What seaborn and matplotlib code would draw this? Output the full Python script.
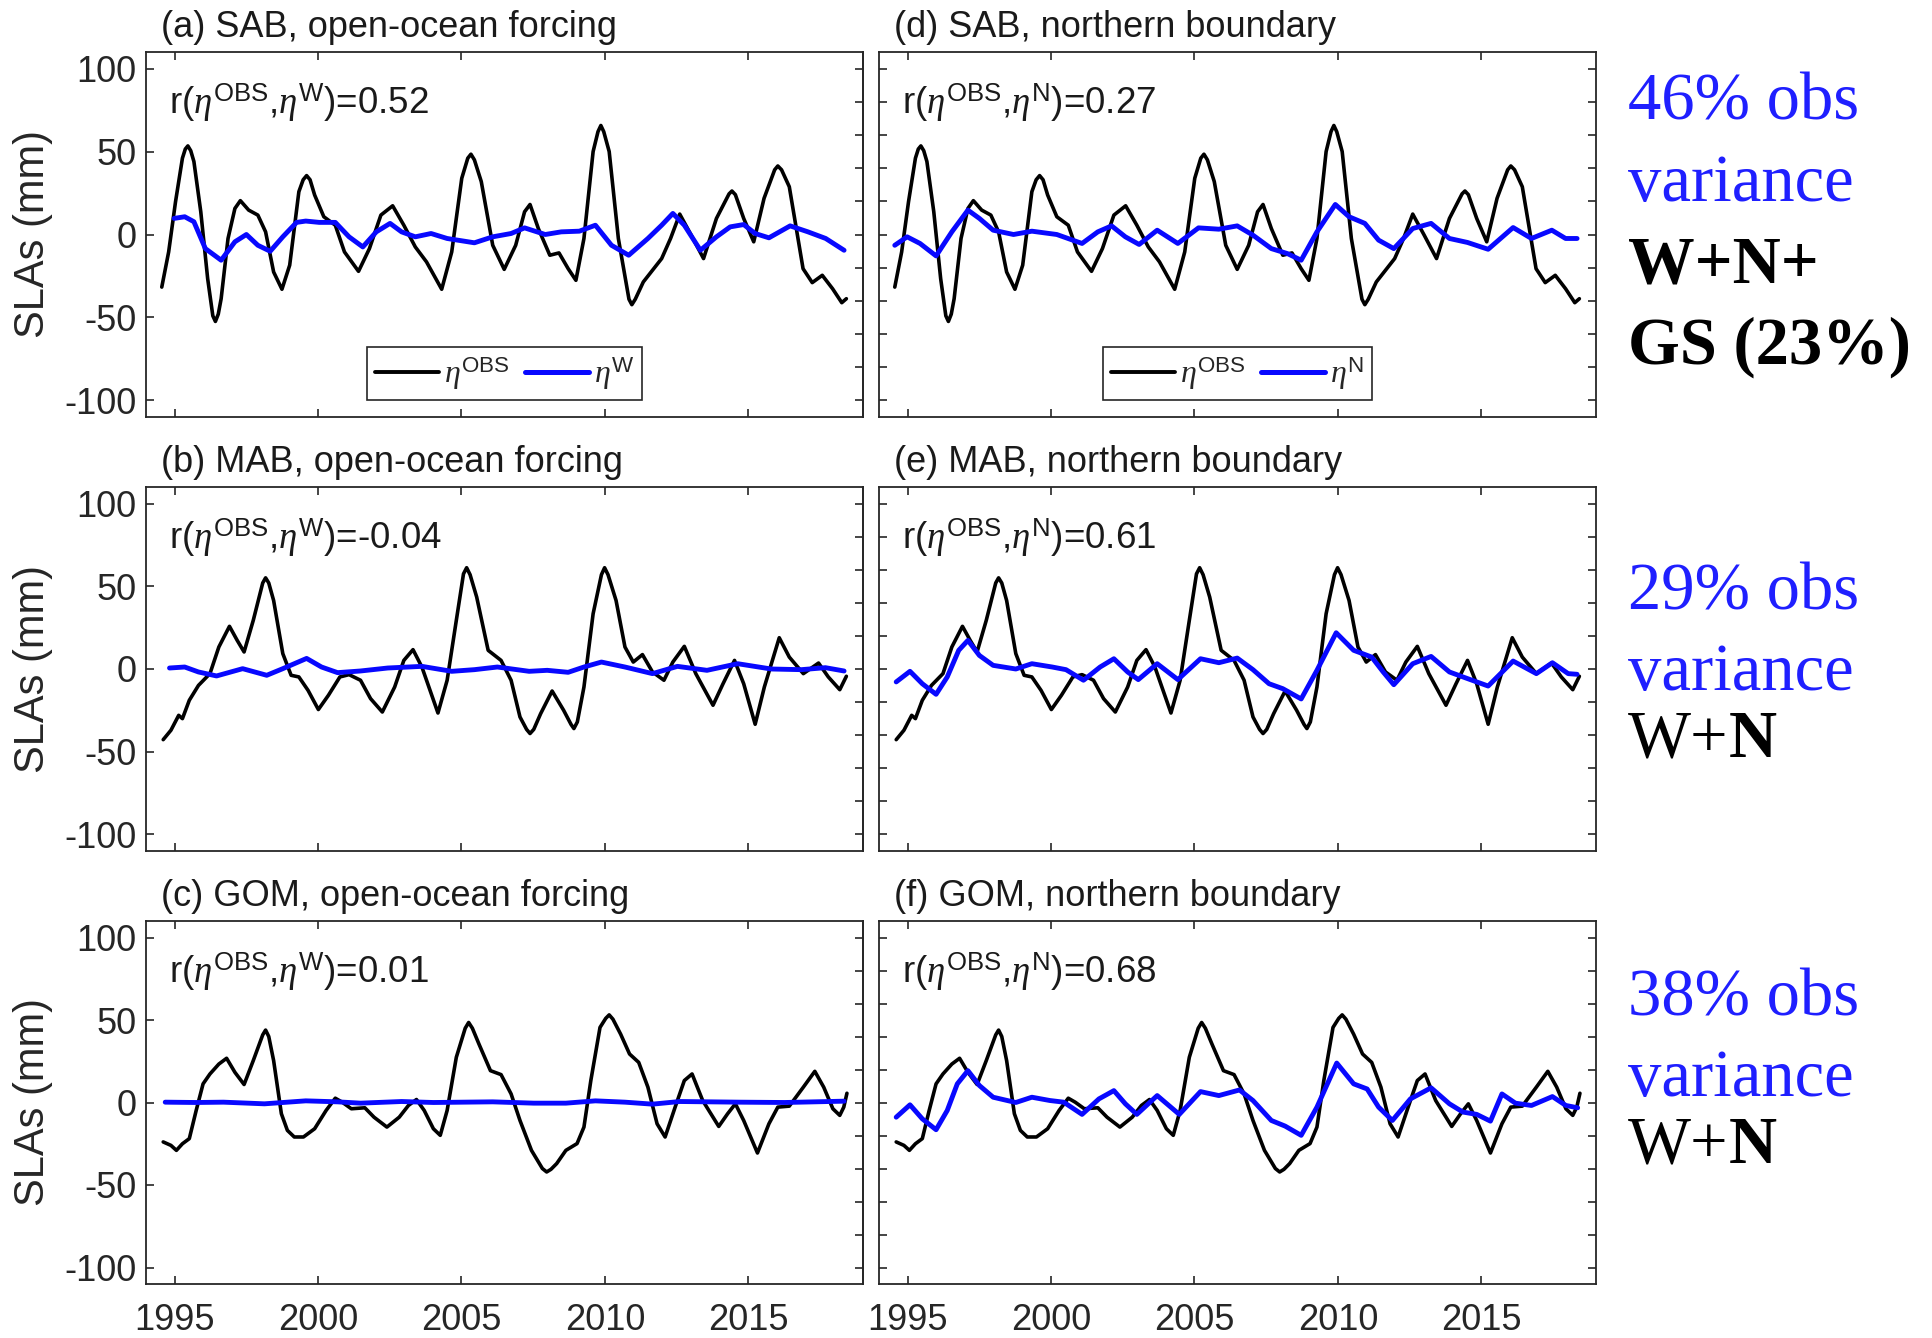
import numpy as np
import pandas as pd
import matplotlib
matplotlib.use('Agg')
import matplotlib.pyplot as plt
import seaborn as sns
from matplotlib.lines import Line2D

# ---------------- data ----------------
sab_obs_t = [1994.55, 1994.79, 1995.03, 1995.27, 1995.37, 1995.46, 1995.56, 1995.67, 1995.91, 1996.15,
             1996.33, 1996.42, 1996.52, 1996.62, 1996.86, 1997.10, 1997.29, 1997.58, 1997.90, 1998.17,
             1998.45, 1998.74, 1999.01, 1999.33, 1999.48, 1999.60, 1999.72, 1999.88, 2000.20, 2000.60,
             2000.92, 2001.41, 2001.79, 2002.19, 2002.60, 2002.99, 2003.39, 2003.78, 2004.31, 2004.66,
             2005.01, 2005.22, 2005.33, 2005.45, 2005.69, 2006.09, 2006.49, 2006.89, 2007.20, 2007.39,
             2007.68, 2008.08, 2008.40, 2008.72, 2008.99, 2009.27, 2009.59, 2009.76, 2009.86, 2009.96,
             2010.15, 2010.47, 2010.84, 2010.94, 2011.06, 2011.34, 2011.98, 2012.29, 2012.61, 2013.01,
             2013.44, 2013.89, 2014.33, 2014.43, 2014.55, 2014.84, 2015.19, 2015.55, 2015.92, 2016.03,
             2016.16, 2016.43, 2016.91, 2017.23, 2017.58, 2017.94, 2018.26, 2018.42]
sab_obs_v = [-31.7, -10.5, 19.8, 46.0, 51.5, 53.4, 50.5, 44.0, 13.7, -26.6,
             -49.0, -52.4, -48.0, -38.7, -2.4, 15.7, 20.4, 14.7, 11.7, 1.6,
             -22.6, -33.0, -18.5, 25.8, 33.0, 35.5, 33.0, 23.8, 10.7, 5.6,
             -10.5, -22.2, -8.5, 11.7, 17.3, 5.6, -7.5, -16.5, -33.0, -10.5,
             33.9, 46.0, 48.4, 45.0, 31.9, -6.5, -21.0, -6.5, 13.7, 18.1,
             3.6, -12.5, -11.1, -20.6, -27.6, -2.4, 50.0, 62.0, 65.7, 62.0,
             50.0, -2.4, -39.0, -42.3, -39.0, -28.6, -14.5, -2.4, 12.3, -0.4,
             -14.5, 9.7, 24.5, 26.2, 24.0, 9.7, -4.4, 21.8, 39.0, 41.3,
             39.0, 28.8, -20.6, -29.0, -24.6, -32.7, -41.1, -38.7]

mab_obs_t = [1994.60, 1994.87, 1995.14, 1995.27, 1995.51, 1995.83, 1996.23, 1996.54, 1996.91, 1997.18,
             1997.42, 1997.74, 1998.07, 1998.17, 1998.28, 1998.45, 1998.77, 1999.06, 1999.33, 1999.65,
             2000.01, 2000.36, 2000.76, 2001.08, 2001.48, 2001.83, 2002.24, 2002.67, 2002.99, 2003.31,
             2003.62, 2004.18, 2004.50, 2004.82, 2005.07, 2005.18, 2005.30, 2005.53, 2005.93, 2006.38,
             2006.73, 2007.04, 2007.27, 2007.39, 2007.52, 2007.76, 2008.16, 2008.56, 2008.82, 2008.92,
             2009.04, 2009.27, 2009.59, 2009.88, 2009.99, 2010.11, 2010.39, 2010.70, 2010.99, 2011.31,
             2011.66, 2012.06, 2012.37, 2012.77, 2013.17, 2013.77, 2014.12, 2014.52, 2014.84, 2015.24,
             2015.56, 2016.08, 2016.43, 2016.92, 2017.45, 2017.79, 2018.19, 2018.42]
mab_obs_v = [-42.7, -37.0, -28.0, -30.0, -18.9, -9.9, -2.8, 13.3, 25.8, 17.3,
             10.3, 29.4, 52.0, 55.1, 52.0, 41.4, 9.3, -3.8, -4.8, -12.9,
             -24.5, -15.9, -4.8, -3.4, -6.8, -17.9, -26.0, -10.9, 5.2, 11.7,
             1.2, -26.6, -6.8, 29.4, 57.5, 61.2, 57.0, 43.5, 11.3, 5.2,
             -6.8, -29.0, -36.5, -39.0, -36.5, -27.0, -13.3, -24.9, -33.5, -36.0,
             -32.0, -10.9, 33.4, 57.0, 61.2, 57.0, 41.4, 13.3, 4.2, 8.7,
             -1.8, -6.8, 4.2, 13.7, -2.8, -21.9, -8.9, 5.2, -8.9, -33.4,
             -10.9, 18.9, 7.2, -2.8, 3.6, -4.8, -12.5, -4.4]

gom_obs_t = [1994.60, 1994.87, 1995.06, 1995.27, 1995.51, 1995.75, 1995.99, 1996.23, 1996.54, 1996.81,
             1997.10, 1997.42, 1997.74, 1998.07, 1998.17, 1998.28, 1998.45, 1998.72, 1998.93, 1999.17,
             1999.49, 1999.88, 2000.28, 2000.60, 2000.84, 2001.16, 2001.63, 2001.95, 2002.40, 2002.83,
             2003.15, 2003.43, 2003.70, 2004.02, 2004.26, 2004.50, 2004.82, 2005.13, 2005.25, 2005.38,
             2005.61, 2006.01, 2006.38, 2006.73, 2007.04, 2007.44, 2007.82, 2007.97, 2008.12, 2008.32,
             2008.64, 2009.03, 2009.27, 2009.51, 2009.83, 2010.03, 2010.15, 2010.28, 2010.55, 2010.86,
             2011.18, 2011.50, 2011.82, 2012.10, 2012.45, 2012.77, 2013.04, 2013.41, 2013.97, 2014.28,
             2014.55, 2014.84, 2015.32, 2015.72, 2016.03, 2016.43, 2016.92, 2017.32, 2017.63, 2017.95,
             2018.19, 2018.33, 2018.44]
gom_obs_v = [-23.9, -26.0, -29.0, -25.0, -21.9, -4.8, 11.3, 17.3, 23.3, 26.8,
             18.3, 10.9, 25.4, 41.0, 43.9, 40.0, 25.4, -6.8, -16.9, -20.9,
             -20.9, -15.9, -4.8, 2.6, 0.2, -3.8, -3.2, -8.9, -14.9, -8.9,
             -1.8, 1.8, -4.8, -15.9, -19.9, -4.8, 27.4, 45.0, 48.5, 45.0,
             35.4, 19.3, 16.9, 5.2, -10.9, -29.0, -40.0, -42.1, -40.5, -37.0,
             -29.0, -24.9, -14.9, 13.3, 45.5, 51.0, 53.1, 50.5, 41.4, 29.4,
             24.3, 9.3, -12.9, -20.9, -2.8, 13.3, 17.3, 1.2, -14.5, -6.8,
             -0.8, -10.9, -30.6, -12.9, -2.8, -2.2, 9.3, 18.9, 9.3, -3.8,
             -7.8, -2.8, 5.6]

sab_w_t = [1994.98, 1995.35, 1995.67, 1996.07, 1996.62, 1997.10, 1997.50, 1997.90, 1998.33, 1998.77,
           1999.25, 1999.57, 2000.04, 2000.60, 2001.08, 2001.56, 2002.03, 2002.51, 2002.91, 2003.39,
           2003.94, 2004.50, 2005.45, 2006.09, 2006.73, 2007.20, 2007.92, 2008.48, 2009.11, 2009.67,
           2010.23, 2010.83, 2011.50, 2011.98, 2012.37, 2012.77, 2013.33, 2013.89, 2014.37, 2014.84,
           2015.24, 2015.72, 2016.46, 2017.08, 2017.70, 2018.34]
sab_w_v = [9.7, 10.7, 7.7, -8.5, -15.5, -4.4, 0.0, -6.5, -10.1, -1.4,
           7.3, 8.1, 7.3, 7.3, -1.4, -7.5, 1.6, 6.7, 1.6, -1.4,
           0.6, -2.4, -5.0, -1.4, 0.6, 4.0, 0.0, 1.6, 2.0, 5.6,
           -6.5, -12.5, -2.4, 5.6, 12.7, 5.6, -9.5, -1.4, 4.6, 6.0,
           0.6, -2.0, 5.2, 1.6, -2.4, -9.5]

sab_n_t = [1994.55, 1994.98, 1995.43, 1995.99, 1996.54, 1997.10, 1997.50, 1997.98, 1998.69, 1999.33,
           2000.20, 2001.08, 2001.63, 2002.11, 2002.59, 2003.07, 2003.70, 2004.42, 2005.14, 2005.85,
           2006.49, 2007.04, 2007.68, 2008.24, 2008.72, 2009.27, 2009.91, 2010.39, 2010.94, 2011.42,
           2011.95, 2012.61, 2013.25, 2013.89, 2014.52, 2015.24, 2016.11, 2016.75, 2017.46, 2017.94,
           2018.34]
sab_n_v = [-6.5, -1.4, -5.4, -12.9, 1.6, 14.7, 9.7, 2.6, 0.0, 2.0,
           0.0, -5.4, 1.6, 5.2, -1.4, -6.0, 2.6, -5.4, 4.0, 3.2,
           5.2, -0.4, -8.5, -11.5, -15.5, 1.6, 18.1, 10.7, 6.7, -3.4,
           -8.5, 3.6, 6.7, -2.4, -4.8, -8.9, 4.2, -2.4, 2.6, -2.4,
           -2.4]

mab_w_t = [1994.82, 1995.35, 1995.83, 1996.46, 1997.37, 1998.21, 1998.77, 1999.60, 2000.12, 2000.68,
           2001.48, 2002.43, 2003.62, 2004.66, 2005.45, 2006.25, 2007.36, 2007.99, 2008.72, 2009.27,
           2009.88, 2010.70, 2011.66, 2012.53, 2013.56, 2014.63, 2015.80, 2016.85, 2017.69, 2018.34]
mab_w_v = [0.6, 1.2, -1.8, -4.2, 0.2, -3.8, 0.2, 6.4, 1.2, -2.2,
           -1.2, 0.6, 1.6, -1.4, -0.4, 1.2, -1.4, -0.8, -2.0, 1.2,
           4.2, 1.2, -2.8, 1.6, -0.8, 3.2, 0.0, -0.4, 0.8, -1.2]

mab_n_t = [1994.60, 1995.08, 1995.51, 1995.99, 1996.38, 1996.78, 1997.10, 1997.50, 1997.98, 1998.77,
           1999.33, 2000.04, 2000.52, 2001.13, 2001.71, 2002.19, 2002.67, 2003.04, 2003.70, 2004.42,
           2005.21, 2005.85, 2006.49, 2007.04, 2007.60, 2008.08, 2008.72, 2009.27, 2009.94, 2010.55,
           2011.18, 2011.58, 2011.95, 2012.61, 2013.25, 2013.89, 2014.52, 2015.24, 2016.11, 2016.92,
           2017.48, 2018.03, 2018.34]
mab_n_v = [-7.8, -1.4, -8.9, -15.3, -4.8, 11.3, 17.3, 8.2, 2.2, 0.0,
           3.2, 1.2, -0.4, -6.8, 1.2, 6.2, -1.8, -6.4, 3.2, -6.4,
           6.2, 3.8, 6.6, -0.4, -8.9, -11.9, -18.1, -0.8, 21.9, 11.3,
           7.2, -1.8, -9.5, 3.2, 7.6, -1.8, -5.8, -10.3, 4.8, -2.8,
           3.8, -2.8, -3.2]

gom_w_t = [1994.67, 1995.75, 1996.70, 1998.13, 1999.57, 2000.68, 2001.48, 2002.91, 2004.02, 2006.09,
           2007.52, 2008.64, 2009.67, 2010.70, 2011.66, 2012.61, 2014.68, 2016.27, 2018.34]
gom_w_v = [0.2, 0.0, 0.2, -0.8, 1.0, 0.4, -0.4, 0.6, 0.0, 0.4,
           -0.4, -0.4, 1.0, 0.2, -1.0, 0.6, 0.2, 0.0, 0.8]

gom_n_t = [1994.60, 1995.08, 1995.51, 1995.99, 1996.38, 1996.73, 1997.10, 1997.50, 1997.98, 1998.77,
           1999.33, 1999.96, 2000.44, 2001.08, 2001.67, 2002.19, 2002.59, 2002.99, 2003.70, 2004.47,
           2005.21, 2005.85, 2006.57, 2007.04, 2007.68, 2008.16, 2008.72, 2009.27, 2009.96, 2010.55,
           2011.02, 2011.42, 2011.90, 2012.53, 2013.25, 2013.89, 2014.36, 2014.84, 2015.32, 2015.72,
           2016.19, 2016.75, 2017.48, 2017.95, 2018.36]
gom_n_v = [-8.9, -1.4, -9.9, -16.5, -4.8, 11.3, 19.3, 10.3, 3.2, 0.0,
           3.2, 1.2, 0.2, -7.2, 2.2, 7.2, -0.8, -7.2, 4.2, -7.2,
           6.6, 4.2, 7.6, 1.2, -10.9, -14.3, -19.9, -2.8, 23.9, 11.3,
           8.2, -2.8, -10.9, 2.2, 8.9, -0.8, -5.8, -7.2, -11.3, 5.2,
           -0.4, -1.8, 3.6, -1.8, -3.2]

panel_titles = ['(a) SAB, open-ocean forcing', '(d) SAB, northern boundary',
                '(b) MAB, open-ocean forcing', '(e) MAB, northern boundary',
                '(c) GOM, open-ocean forcing', '(f) GOM, northern boundary']
corr_values = ['0.52', '0.27', '-0.04', '0.61', '0.01', '0.68']
model_keys = ['W', 'N', 'W', 'N', 'W', 'N']
x_ticks = [1995, 2000, 2005, 2010, 2015]
y_ticks_major = [-100, -50, 0, 50, 100]
y_ticks_fine = list(range(-100, 101, 20))

# ---------------- style ----------------
sns.set_theme(style='ticks')
plt.rcParams['font.family'] = ['Liberation Sans', 'DejaVu Sans']
plt.rcParams['axes.unicode_minus'] = False
plt.rcParams['mathtext.fontset'] = 'custom'
plt.rcParams['mathtext.rm'] = 'Liberation Sans'
plt.rcParams['mathtext.it'] = 'Liberation Serif:italic'
plt.rcParams['mathtext.bf'] = 'Liberation Sans:bold'

GRAY = '#262626'
BLUE = '#0808ff'
TXT_BLUE = '#1f1fff'
W, H = 1932, 1338
fig = plt.figure(figsize=(W / 100, H / 100), dpi=100)

col_x = [146, 879]
ax_w = 717
row_y = [(52, 365), (487, 364), (921, 363)]

obs_sets = [(sab_obs_t, sab_obs_v), (mab_obs_t, mab_obs_v), (gom_obs_t, gom_obs_v)]
mod_sets = [[(sab_w_t, sab_w_v), (sab_n_t, sab_n_v)],
            [(mab_w_t, mab_w_v), (mab_n_t, mab_n_v)],
            [(gom_w_t, gom_w_v), (gom_n_t, gom_n_v)]]

axes = []
for r in range(3):
    for c in range(2):
        top, h = row_y[r]
        ax = fig.add_axes([col_x[c] / W, 1 - (top + h) / H, ax_w / W, h / H])
        axes.append(ax)
        idx = r * 2 + c
        ot, ov = obs_sets[r]
        mt, mv = mod_sets[r][c]
        df_o = pd.DataFrame({'year': ot, 'sla': ov})
        df_m = pd.DataFrame({'year': mt, 'sla': mv})
        sns.lineplot(data=df_o, x='year', y='sla', ax=ax, color='black', lw=2.6,
                     estimator=None, sort=False, solid_joinstyle='round')
        sns.lineplot(data=df_m, x='year', y='sla', ax=ax, color=BLUE, lw=3.5,
                     estimator=None, sort=False, solid_joinstyle='round')
        ax.set_xlim(1994, 2019)
        ax.set_ylim(-110, 110)
        ax.set_xticks(x_ticks)
        ax.set_xlabel('')
        for s in ax.spines.values():
            s.set_visible(True)
            s.set_color(GRAY)
            s.set_linewidth(1.3)
        ax.tick_params(axis='both', direction='in', length=6, width=1.2, color=GRAY,
                       labelcolor=GRAY, labelsize=26, top=True)
        ax.tick_params(axis='y', pad=7)
        ax.tick_params(axis='x', pad=14, labelbottom=(r == 2))
        if c == 0:
            ax.set_yticks(y_ticks_major)
            ax.tick_params(axis='y', right=False)
            sec = ax.secondary_yaxis('right')
            sec.set_yticks(y_ticks_fine)
            sec.tick_params(direction='in', length=6, width=1.2, color=GRAY, labelright=False)
            sec.spines['right'].set_color(GRAY)
            sec.spines['right'].set_linewidth(1.3)
            ax.set_ylabel('SLAs (mm)', fontsize=30, color=GRAY)
            ax.yaxis.set_label_coords(-0.13, 0.5)
        else:
            ax.set_yticks(y_ticks_fine)
            ax.tick_params(axis='y', right=True, labelleft=False)
            ax.set_ylabel('')
        ax.text(15 / ax_w, 1 + 15 / h, panel_titles[idx], transform=ax.transAxes,
                fontsize=26, color='#1a1a1a', ha='left', va='baseline')
        k = model_keys[idx]
        ax.text(23 / ax_w, 1 - 62 / h,
                r'r($\eta^{\mathrm{OBS}}$,$\eta^{\mathrm{' + k + r'}}$)=' + corr_values[idx],
                transform=ax.transAxes, fontsize=26.5, color='#1a1a1a', ha='left', va='baseline')
        if r == 0:
            handles = [Line2D([], [], color='black', lw=2.8),
                       Line2D([], [], color=BLUE, lw=3.6)]
            labels = [r'$\eta^{\mathrm{OBS}}$', r'$\eta^{\mathrm{' + k + r'}}$']
            leg = ax.legend(handles, labels, ncol=2, loc='lower center',
                            bbox_to_anchor=(0.5, 17 / h), borderaxespad=0, fontsize=23,
                            handlelength=2.0, handletextpad=0.15, columnspacing=0.5,
                            borderpad=0.25, fancybox=False, framealpha=1, edgecolor=GRAY)
            leg.get_frame().set_linewidth(1.2)

# ---------------- right-hand annotations ----------------
tx = 1628 / W
fs = 48
serif = 'Liberation Serif'

def ftext(y, s, color='black', weight='normal'):
    return fig.text(tx, 1 - y / H, s, fontsize=fs, family=serif, color=color,
                    fontweight=weight, ha='left', va='baseline')

ftext(120, '46% obs', TXT_BLUE)
ftext(201, 'variance', TXT_BLUE)
ftext(282, 'W+N+', 'black', 'bold')
ftext(364, 'GS (23%)', 'black', 'bold')

ftext(609, '29% obs', TXT_BLUE)
ftext(690, 'variance', TXT_BLUE)
t2 = fig.text(tx, 1 - 771 / H, 'W+', fontsize=fs, family=serif, color='black',
              ha='left', va='bottom')
axes[0].annotate('N', xy=(1, 0), xycoords=t2, fontsize=fs, family=serif, color='black',
                 fontweight='bold', ha='left', va='bottom', annotation_clip=False)

ftext(1016, '38% obs', TXT_BLUE)
ftext(1096, 'variance', TXT_BLUE)
t3 = fig.text(tx, 1 - 1177 / H, 'W+', fontsize=fs, family=serif, color='black',
              ha='left', va='bottom')
axes[0].annotate('N', xy=(1, 0), xycoords=t3, fontsize=fs, family=serif, color='black',
                 fontweight='bold', ha='left', va='bottom', annotation_clip=False)

fig.savefig('out.png', dpi=100)
